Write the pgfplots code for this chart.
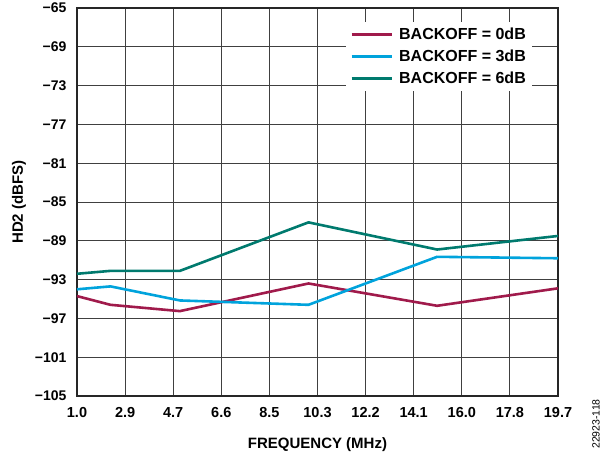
\documentclass[border=0pt]{standalone}
\usepackage{pgfplots}
\pgfplotsset{compat=1.18}
\usepackage{fontspec}
\setmainfont{Liberation Sans}
\definecolor{cRed}{HTML}{A01A4B}
\definecolor{cBlue}{HTML}{00A3DC}
\definecolor{cGreen}{HTML}{007A6E}
\begin{document}
\begin{tikzpicture}
\path[use as bounding box] (-77pt,-58pt) rectangle (525pt,396pt);
\begin{axis}[
  scale only axis, width=481pt, height=388pt,
  xmin=1, xmax=19.7, ymin=-105, ymax=-65,
  xtick={1.0,2.87,4.74,6.61,8.48,10.35,12.22,14.09,15.96,17.83,19.7},
  xticklabels={1.0,2.9,4.7,6.6,8.5,10.3,12.2,14.1,16.0,17.8,19.7},
  ytick={-105,-101,-97,-93,-89,-85,-81,-77,-73,-69,-65},
  yticklabels={−105,−101,−97,−93,−89,−85,−81,−77,−73,−69,−65},
  tick style={draw=none},
  grid=major,
  major grid style={draw=black!75, line width=0.9pt},
  axis line style={draw=black!85, line width=1.4pt},
  xticklabel style={font=\fontsize{14.5}{16}\selectfont\bfseries, yshift=-8pt},
  yticklabel style={font=\fontsize{14}{16}\selectfont\bfseries, xshift=-7pt},
  label style={font=\fontsize{15}{17}\selectfont\bfseries},
  xlabel={FREQUENCY (MHz)},
  ylabel={HD2 (dBFS)},
  xlabel style={yshift=-13pt},
  ylabel style={yshift=2pt},
  legend style={at={(0.946,0.965)}, anchor=north east, draw=none, fill=white,
    font=\fontsize{16}{18}\selectfont\bfseries, inner xsep=4pt, inner ysep=4pt,
    row sep=5pt, column sep=4pt, cells={anchor=west}},
  legend image code/.code={\draw[#1, line width=3pt] (0pt,0pt) -- (40pt,0pt);},
  legend cell align=left,
]
\addplot[cRed, line width=2.6pt] coordinates {(1,-94.7) (2.3,-95.6) (5,-96.25) (10,-93.4) (15,-95.7) (19.7,-93.9)};
\addlegendentry{BACKOFF = 0dB}
\addplot[cBlue, line width=2.6pt] coordinates {(1,-94.0) (2.3,-93.7) (5,-95.15) (10,-95.6) (15,-90.65) (19.7,-90.8)};
\addlegendentry{BACKOFF = 3dB}
\addplot[cGreen, line width=2.6pt] coordinates {(1,-92.4) (2.3,-92.1) (5,-92.1) (10,-87.1) (15,-89.9) (19.7,-88.5)};
\addlegendentry{BACKOFF = 6dB}
\end{axis}
\node[rotate=90, font=\fontsize{10.5}{12}\selectfont] at (519pt,-28pt) {22923-118};
\end{tikzpicture}
\end{document}
